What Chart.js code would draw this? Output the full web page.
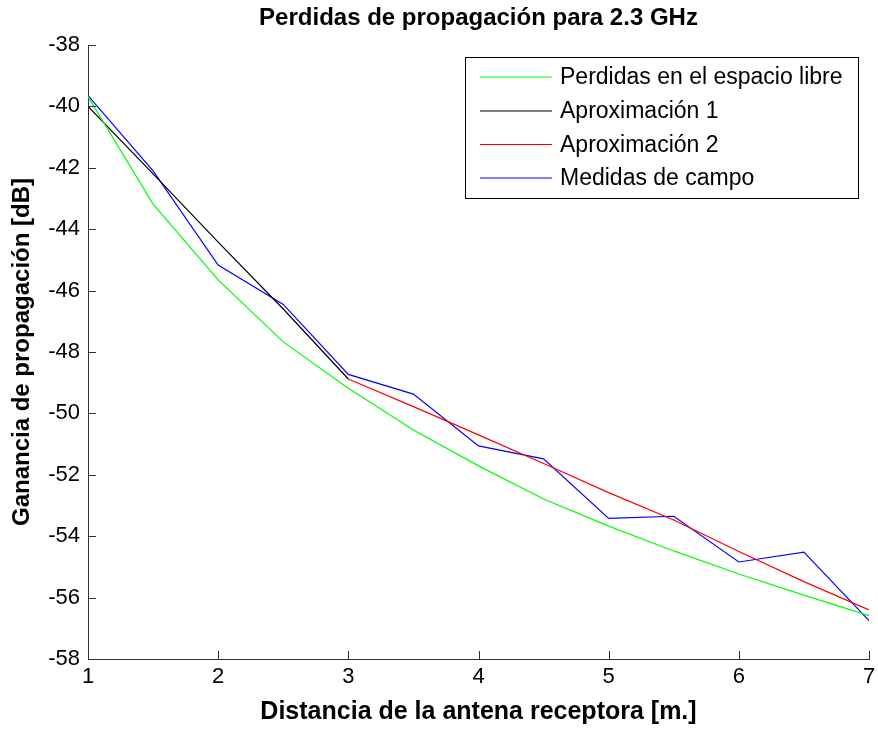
<!DOCTYPE html>
<html>
<head>
<meta charset="utf-8">
<script src="https://cdn.jsdelivr.net/npm/chart.js@4"></script>
<style>
  html, body { margin: 0; padding: 0; background: #fff; }
  #wrap { width: 878px; height: 729px; }
</style>
</head>
<body>
<div id="wrap"><canvas id="chart"></canvas></div>
<script>
const distances = [1, 1.5, 2, 2.5, 3, 3.5, 4, 4.5, 5, 5.5, 6, 6.5, 7];
const freeSpace = [-39.68, -43.18, -45.65, -47.67, -49.18, -50.54, -51.71, -52.79, -53.67, -54.48, -55.23, -55.92, -56.59];
const approx1 = [-40.0, -42.2, -44.42, -46.6, -48.88, null, null, null, null, null, null, null, null];
const approx2 = [null, null, null, null, -48.88, -49.78, -50.70, -51.63, -52.58, -53.47, -54.50, -55.48, -56.40];
const measured = [-39.65, -42.1, -45.17, -46.45, -48.73, -49.37, -51.06, -51.48, -53.42, -53.35, -54.84, -54.52, -56.75];

const seriesNames = ['Perdidas en el espacio libre', 'Aproximación 1', 'Aproximación 2', 'Medidas de campo'];
const seriesColors = ['#00ff00', '#000000', '#ff0000', '#0000ff'];
const xTicks = [1, 2, 3, 4, 5, 6, 7];
const yTicks = [-58, -56, -54, -52, -50, -48, -46, -44, -42, -40, -38];

const FONT = "'Liberation Sans', Arial, sans-serif";

function toPoints(values) {
    return distances.map((d, i) => ({ x: d, y: values[i] })).filter(p => p.y !== null);
}

// MATLAB style ticks pointing into the plot
const inwardTicks = {
    id: 'inwardTicks',
    afterDraw(chart) {
        const ctx = chart.ctx;
        const xs = chart.scales.x;
        const ys = chart.scales.y;
        const area = chart.chartArea;
        ctx.save();
        ctx.strokeStyle = '#333';
        ctx.lineWidth = 1;
        ctx.beginPath();
        xTicks.forEach(v => {
            const px = Math.round(xs.getPixelForValue(v)) + 0.5;
            ctx.moveTo(px, area.bottom);
            ctx.lineTo(px, area.bottom - 8);
        });
        yTicks.forEach(v => {
            const py = Math.round(ys.getPixelForValue(v)) + 0.5;
            ctx.moveTo(area.left, py);
            ctx.lineTo(area.left + 8, py);
        });
        ctx.stroke();
        ctx.restore();
    }
};

// boxed legend inside the axes, upper right
const boxLegend = {
    id: 'boxLegend',
    afterDraw(chart) {
        const ctx = chart.ctx;
        const left = 465, top = 57, width = 393, height = 141;
        const rows = [77, 111, 144.5, 178];
        ctx.save();
        ctx.fillStyle = '#fff';
        ctx.fillRect(left, top, width, height);
        ctx.strokeStyle = '#000';
        ctx.lineWidth = 1;
        ctx.strokeRect(left + 0.5, top + 0.5, width, height);
        ctx.font = '23px ' + FONT;
        ctx.textBaseline = 'middle';
        ctx.textAlign = 'left';
        chart.data.datasets.forEach((ds, i) => {
            const y = rows[i];
            ctx.strokeStyle = ds.borderColor;
            ctx.lineWidth = 1.2;
            ctx.beginPath();
            ctx.moveTo(480, y);
            ctx.lineTo(552, y);
            ctx.stroke();
            ctx.fillStyle = '#000';
            ctx.fillText(ds.label, 560, y + 1);
        });
        ctx.restore();
    }
};

const datasets = [freeSpace, approx1, approx2, measured].map((vals, i) => ({
    label: seriesNames[i],
    data: toPoints(vals),
    borderColor: seriesColors[i],
    backgroundColor: seriesColors[i],
    borderWidth: 1.2,
    pointRadius: 0,
    tension: 0,
    fill: false
}));

new Chart(document.getElementById('chart'), {
    type: 'line',
    data: { datasets: datasets },
    options: {
        responsive: true,
        maintainAspectRatio: false,
        animation: false,
        layout: { padding: { left: 0, right: 9, top: 0, bottom: 0 } },
        plugins: {
            legend: { display: false },
            tooltip: { enabled: false },
            title: {
                display: true,
                fullSize: false,
                text: 'Perdidas de propagación para 2.3 GHz',
                color: '#000',
                font: { family: FONT, size: 24, weight: 'bold' },
                padding: { top: 3.6, bottom: 12.6 }
            }
        },
        scales: {
            x: {
                type: 'linear',
                min: 1,
                max: 7,
                afterBuildTicks: s => { s.ticks = xTicks.map(v => ({ value: v })); },
                afterFit: s => { s.height = 70; s.paddingRight = 0; s.paddingLeft = 0; },
                grid: { display: false, drawTicks: false },
                border: { display: true, color: '#333', width: 1 },
                ticks: { color: '#000', font: { family: FONT, size: 22 }, padding: 5, maxRotation: 0 },
                title: {
                    display: true,
                    text: 'Distancia de la antena receptora [m.]',
                    color: '#000',
                    font: { family: FONT, size: 25, weight: 'bold' },
                    padding: { top: 0, bottom: 2 }
                }
            },
            y: {
                type: 'linear',
                min: -58,
                max: -38,
                afterBuildTicks: s => { s.ticks = yTicks.map(v => ({ value: v })); },
                afterFit: s => { s.width = 88; },
                grid: { display: false, drawTicks: false },
                border: { display: true, color: '#333', width: 1 },
                ticks: { color: '#000', font: { family: FONT, size: 22 }, padding: 8 },
                title: {
                    display: true,
                    text: 'Ganancia de propagación [dB]',
                    color: '#000',
                    font: { family: FONT, size: 24, weight: 'bold' },
                    padding: { top: 7.6, bottom: 0 }
                }
            }
        }
    },
    plugins: [inwardTicks, boxLegend]
});
</script>
</body>
</html>
